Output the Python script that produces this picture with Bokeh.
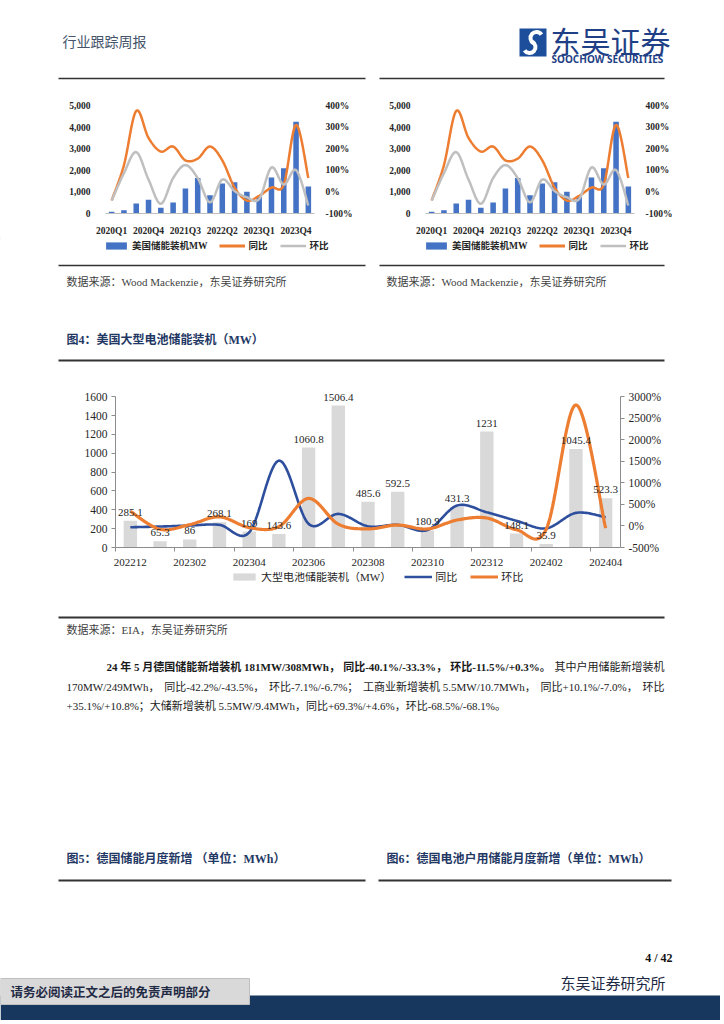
import numpy as np
from bokeh.plotting import figure
from bokeh.models import (Range1d, LinearAxis, FixedTicker, Legend, LegendItem,
                          ColumnDataSource, NumeralTickFormatter, PrintfTickFormatter, LabelSet)
from bokeh.layouts import column, row
from bokeh.core.properties import value
from bokeh.embed import file_html
from bokeh.resources import INLINE

# ---------------- data: US energy storage (Wood Mackenzie), quarterly ----------------
quarters = ["2020Q1", "2020Q2", "2020Q3", "2020Q4", "2021Q1", "2021Q2", "2021Q3", "2021Q4",
            "2022Q1", "2022Q2", "2022Q3", "2022Q4", "2023Q1", "2023Q2", "2023Q3", "2023Q4", "2024Q1"]
us_storage_mw = [80, 150, 460, 640, 270, 510, 1160, 1640, 850, 1390, 1450, 1010, 770, 1670, 2090, 4250, 1250]
us_storage_yoy = [-40, 124, 375, 250, 187, 210, 146, 154, 210, 146, 20, -40, -18, 20, 34, 310, 64]
us_storage_qoq = [-40, 87, 184, 57, -55, 64, 124, 64, -48, 57, 4, -25, -33, 113, 34, 101, -63]
quarter_tick_labels = ["2020Q1", "2020Q4", "2021Q3", "2022Q2", "2023Q1", "2023Q4"]
small_left_ticks = [0, 1000, 2000, 3000, 4000, 5000]
small_right_ticks = [-100, 0, 100, 200, 300, 400]
small_legend_labels = ["美国储能装机MW", "同比", "环比"]

# ---------------- data: US utility-scale battery storage (EIA), monthly ----------------
months = ["202212", "202301", "202302", "202303", "202304", "202305", "202306", "202307", "202308",
          "202309", "202310", "202311", "202312", "202401", "202402", "202403", "202404"]
utility_battery_mw = [285.1, 65.3, 86, 268.1, 169, 143.6, 1060.8, 1506.4, 485.6,
                      592.5, 180.9, 431.3, 1231, 148.1, 35.9, 1045.4, 523.3]
utility_yoy = [-30, -13, 10, 26, -150, 1517, 49, 281, -7, 26, -95, 474, 318, 121, -56, 304, 204]
utility_mom = [341, -77, 32, 212, -37, -15, 639, 42, -68, 22, -69, 138, 185, -88, -76, 2812, -50]
month_tick_labels = ["202212", "202302", "202304", "202306", "202308", "202310", "202312", "202402", "202404"]
main_left_ticks = [0, 200, 400, 600, 800, 1000, 1200, 1400, 1600]
main_right_ticks = [-500, 0, 500, 1000, 1500, 2000, 2500, 3000]
main_legend_labels = ["大型电池储能装机（MW）", "同比", "环比"]

SERIF = "Liberation Serif"
MIX = "Liberation Serif, Noto Sans CJK SC"
CJK = "Noto Sans CJK SC"

PAGE_W = 720
C_BAR_S, C_ORANGE, C_GRAY_LINE = "#4472C4", "#ED7D31", "#BFBFBF"
C_BAR_M, C_BLUE = "#D9D9D9", "#2E4F9E"


def smooth(xs, ys, n=24):
    xs = np.asarray(xs, float)
    ys = np.asarray(ys, float)
    m = len(xs)
    px, py = [], []
    for i in range(m - 1):
        i0 = max(i - 1, 0)
        i3 = min(i + 2, m - 1)
        c1x = xs[i] + (xs[i + 1] - xs[i0]) / 6
        c1y = ys[i] + (ys[i + 1] - ys[i0]) / 6
        c2x = xs[i + 1] - (xs[i3] - xs[i]) / 6
        c2y = ys[i + 1] - (ys[i3] - ys[i]) / 6
        t = np.linspace(0, 1, n)
        if i < m - 2:
            t = t[:-1]
        a = (1 - t) ** 3
        b = 3 * (1 - t) ** 2 * t
        c = 3 * (1 - t) * t ** 2
        d = t ** 3
        px.extend(a * xs[i] + b * c1x + c * c2x + d * xs[i + 1])
        py.extend(a * ys[i] + b * c1y + c * c2y + d * ys[i + 1])
    return px, py


def base_fig(**kw):
    p = figure(toolbar_location=None, output_backend="svg", **kw)
    p.outline_line_color = None
    p.background_fill_color = "white"
    p.border_fill_color = "white"
    p.grid.visible = False
    return p


def band(x0, x1, y0, y1):
    return base_fig(width=x1 - x0, height=y1 - y0, x_range=Range1d(x0, x1), y_range=Range1d(y1, y0),
                    min_border=0, x_axis_location=None, y_axis_location=None)


def txt(p, x, y, s, size, font=MIX, color="#222222", style="normal", align="left"):
    p.text(x=[x], y=[y], text=[s], text_font=value(font), text_font_size=size,
           text_font_style=style, text_color=color, text_align=align, text_baseline="middle")


def hline(p, x0, x1, y, w=1.5, color="#3a3a3a"):
    p.segment(x0=[x0], y0=[y], x1=[x1], y1=[y], line_width=w, line_color=color)


# approximate Times / CJK advance widths (em) used to justify paragraph lines
_TR = {".": .25, "/": .278, "%": .833, "+": .564, "-": .333, "M": .889, "W": .944, "h": .5, " ": .25}
_TB = {".": .25, "/": .278, "%": 1.0, "+": .57, "-": .333, "M": .944, "W": 1.0, "h": .556, " ": .25}


def seg_width(s, size, bold):
    tab = _TB if bold else _TR
    w = 0.0
    for ch in s:
        if ord(ch) > 0x2E80:
            w += 1.0
        else:
            w += tab.get(ch, 0.5)
    return w * size


def justify(p, segs, styles, x0, x1, y, size, color="#1a1a1a"):
    widths = [seg_width(s, size, st == "bold") for s, st in zip(segs, styles)]
    gap = (x1 - x0 - sum(widths)) / max(len(segs) - 1, 1)
    x = x0
    for s, st, w in zip(segs, styles, widths):
        txt(p, x, y, s, "%gpx" % size, color=color, style=st)
        x += w + gap


def style_axis(ax, size, bold=False, color="#262626"):
    ax.major_label_text_font = SERIF
    ax.major_label_text_font_size = size
    ax.major_label_text_font_style = "bold" if bold else "normal"
    ax.major_label_text_color = color


def legend_in_band(p, labels, kinds, colors, loc, font_size, bold, glyph_w, spacing, label_h):
    """Legend drawn in a plain band figure; sample glyphs live far outside the visible ranges."""
    items = []
    for lab, kind, col in zip(labels, kinds, colors):
        if kind == "bar":
            r = p.vbar(x=[-5000], top=[-5000], bottom=[-5001], width=1, fill_color=col, line_color=None)
        else:
            r = p.line(x=[-5000, -4999], y=[-5000, -5000], line_color=col,
                       line_width=2.5 if col != C_ORANGE else 3)
        items.append(LegendItem(label=lab, renderers=[r]))
    lg = Legend(items=items, orientation="horizontal", location=loc, padding=0, margin=0,
                glyph_width=glyph_w, glyph_height=9, label_height=label_h, label_standoff=3, spacing=spacing,
                label_text_font=MIX, label_text_font_size=font_size,
                label_text_font_style="bold" if bold else "normal",
                label_text_color="#262626", border_line_color=None, background_fill_alpha=0)
    p.add_layout(lg)


# ---------------- header ----------------
hdr = band(0, PAGE_W, 0, 90)
txt(hdr, 62, 40, "行业跟踪周报", "14px", font=CJK, color="#44546A")
hdr.quad(left=[519], right=[546], top=[28], bottom=[56], fill_color="#1C4E9B", line_color=None)
hdr.arc(x=[536], y=[37.5], radius=6.0, start_angle=0.6, end_angle=4.2, line_width=4, line_color="white")
hdr.arc(x=[529], y=[46.5], radius=6.0, start_angle=3.74, end_angle=7.34, line_width=4, line_color="white")
txt(hdr, 550, 39, "东吴证券", "30px", font=CJK, color="#1F3F86")
txt(hdr, 551, 58, "SOOCHOW SECURITIES", "10px", font="Noto Sans", color="#1F3F86", style="bold")
hline(hdr, 58, 365, 78, 1.5, "#333333")
hline(hdr, 379, 664, 78, 1.5, "#333333")


# ---------------- small quarterly charts (page y 90..238) ----------------
def small_chart(width, b_left, b_right):
    p = base_fig(width=width, height=148, x_range=Range1d(-0.5, 16.5), y_range=Range1d(0, 5000),
                 min_border_left=b_left, min_border_right=b_right, min_border_top=15, min_border_bottom=21)
    p.extra_y_ranges = {"pct": Range1d(-100, 400)}
    idx = list(range(len(quarters)))
    src = ColumnDataSource(dict(x=idx, mw=us_storage_mw))
    p.vbar(x="x", top="mw", width=0.45, source=src, fill_color=C_BAR_S, line_color=None)
    yx, yy = smooth(idx, us_storage_yoy)
    p.line(yx, yy, y_range_name="pct", line_color=C_ORANGE, line_width=2.5)
    qx, qy = smooth(idx, us_storage_qoq)
    p.line(qx, qy, y_range_name="pct", line_color=C_GRAY_LINE, line_width=2.5)

    ya = p.yaxis[0]
    ya.ticker = FixedTicker(ticks=small_left_ticks)
    ya.formatter = NumeralTickFormatter(format="0,0")
    style_axis(ya, "9.5px", bold=True)
    ya.axis_line_color = None
    ya.major_tick_line_color = None
    ya.minor_tick_line_color = None
    ya.major_label_standoff = 9

    ra = LinearAxis(y_range_name="pct", ticker=FixedTicker(ticks=small_right_ticks),
                    formatter=PrintfTickFormatter(format="%d%%"))
    style_axis(ra, "9.5px", bold=True)
    ra.axis_line_color = None
    ra.major_tick_line_color = None
    ra.minor_tick_line_color = None
    ra.major_label_standoff = 5
    p.add_layout(ra, "right")

    xa = p.xaxis[0]
    xa.ticker = FixedTicker(ticks=[quarters.index(q) for q in quarter_tick_labels])
    xa.major_label_overrides = {quarters.index(q): q for q in quarter_tick_labels}
    style_axis(xa, "9.5px", bold=True)
    xa.axis_line_color = "#BFBFBF"
    xa.major_tick_line_color = None
    xa.minor_tick_line_color = None
    xa.major_label_standoff = 6
    return p


left_small = small_chart(362, 105, 48)
right_small = small_chart(PAGE_W - 362, 63, PAGE_W - 362 - 63 - 209)

small_leg = band(0, PAGE_W, 238, 260)
for vx in (103, 423):
    legend_in_band(small_leg, small_legend_labels, ["bar", "line", "line"], [C_BAR_S, C_ORANGE, C_GRAY_LINE],
                   (vx, 8), "9.5px", True, 26, 12, 10)

# ---------------- captions between ----------------
mid = band(0, PAGE_W, 260, 372)
hline(mid, 58, 365, 265, 1.5, "#333333")
hline(mid, 379, 664, 265, 1.5, "#333333")
txt(mid, 66, 281, "数据来源：Wood Mackenzie，东吴证券研究所", "11px", color="#3F3F3F")
txt(mid, 386, 281, "数据来源：Wood Mackenzie，东吴证券研究所", "11px", color="#3F3F3F")
txt(mid, 66, 339, "图4：美国大型电池储能装机（MW）", "12px", color="#1F3864", style="bold")
hline(mid, 58, 664, 360, 2, "#333333")

# ---------------- main monthly chart (page y 372..572) ----------------
TOP_FRAC = 1720 / 1600.0
mp = base_fig(width=PAGE_W, height=200, x_range=Range1d(0, 17), y_range=Range1d(0, 1720),
              min_border_left=115, min_border_right=PAGE_W - 115 - 505,
              min_border_top=int(round(396 - 151 * (TOP_FRAC - 1) - 372)), min_border_bottom=25)
mp.extra_y_ranges = {"pct": Range1d(-500, -500 + 3500 * TOP_FRAC)}
mx = [i + 0.5 for i in range(len(months))]
msrc = ColumnDataSource(dict(x=mx, mw=utility_battery_mw,
                             lab=[("%.1f" % v).rstrip("0").rstrip(".") for v in utility_battery_mw]))
mp.vbar(x="x", top="mw", width=0.45, source=msrc, fill_color=C_BAR_M, line_color=None)
bx, by = smooth(mx, utility_yoy)
mp.line(bx, by, y_range_name="pct", line_color=C_BLUE, line_width=2.6)
ox, oy = smooth(mx, utility_mom)
mp.line(ox, oy, y_range_name="pct", line_color=C_ORANGE, line_width=3.2)
mp.add_layout(LabelSet(x="x", y="mw", text="lab", source=msrc, text_align="center",
                       text_baseline="bottom", y_offset=5, text_font=value(SERIF),
                       text_font_size="11px", text_color="#262626"))

la = mp.yaxis[0]
la.ticker = FixedTicker(ticks=main_left_ticks)
la.bounds = (0, 1600)
style_axis(la, "11.5px")
la.axis_line_color = "#8C8C8C"
la.major_tick_line_color = "#8C8C8C"
la.major_tick_out = 4
la.major_tick_in = 0
la.minor_tick_line_color = None
la.major_label_standoff = 4

pa = LinearAxis(y_range_name="pct", ticker=FixedTicker(ticks=main_right_ticks),
                formatter=PrintfTickFormatter(format="%d%%"), bounds=(-500, 3000))
style_axis(pa, "11.5px")
pa.axis_line_color = "#8C8C8C"
pa.major_tick_line_color = "#8C8C8C"
pa.major_tick_out = 4
pa.major_tick_in = 0
pa.minor_tick_line_color = None
pa.major_label_standoff = 4
mp.add_layout(pa, "right")

ba = mp.xaxis[0]
ba.ticker = FixedTicker(ticks=[months.index(m) + 0.5 for m in month_tick_labels],
                        minor_ticks=list(range(0, 18, 2)))
ba.major_label_overrides = {months.index(m) + 0.5: m for m in month_tick_labels}
style_axis(ba, "11px")
ba.axis_line_color = "#8C8C8C"
ba.major_tick_line_color = None
ba.minor_tick_line_color = "#8C8C8C"
ba.minor_tick_out = 4
ba.minor_tick_in = 0
ba.major_label_standoff = 5

main_leg = band(0, PAGE_W, 572, 600)
legend_in_band(main_leg, main_legend_labels, ["bar", "line", "line"], [C_BAR_M, C_BLUE, C_ORANGE],
               (230, 16), "11px", False, 28, 13, 12)

# ---------------- lower text ----------------
low = band(0, PAGE_W, 600, 1020)
hline(low, 58, 664, 617, 2, "#333333")
txt(low, 66, 629, "数据来源：EIA，东吴证券研究所", "11px", color="#3F3F3F")
justify(low, ["24 年 5 月德国储能新增装机 181MW/308MWh，", "同比-40.1%/-33.3%，", "环比-11.5%/+0.3%。",
              "其中户用储能新增装机"],
        ["bold", "bold", "bold", "normal"], 106, 664, 666, 11)
justify(low, ["170MW/249MWh，", "同比-42.2%/-43.5%，", "环比-7.1%/-6.7%；", "工商业新增装机 5.5MW/10.7MWh，",
              "同比+10.1%/-7.0%，", "环比"],
        ["normal"] * 6, 66, 664, 686, 11)
txt(low, 66, 705, "+35.1%/+10.8%；大储新增装机 5.5MW/9.4MWh，同比+69.3%/+4.6%，环比-68.5%/-68.1%。",
    "11px", color="#1a1a1a")
txt(low, 66, 858, "图5：德国储能月度新增 （单位：MWh）", "12px", color="#1F3864", style="bold")
txt(low, 386, 858, "图6：德国电池户用储能月度新增（单位：MWh）", "12px", color="#1F3864", style="bold")
hline(low, 58, 365, 880, 2, "#333333")
hline(low, 378, 671, 880, 2, "#333333")
txt(low, 672, 957, "4 / 42", "12px", font=SERIF, color="#111111", style="bold", align="right")
txt(low, 560, 982, "东吴证券研究所", "15px", font=CJK, color="#1F2A44")
low.quad(left=[0], right=[PAGE_W], top=[995], bottom=[1020], fill_color="#17375E", line_color=None)
low.quad(left=[0], right=[249], top=[978], bottom=[1004], fill_color="#D9D9D9", line_color="#BFBFBF")
txt(low, 10, 991, "请务必阅读正文之后的免责声明部分", "12.5px", font=CJK, color="#1F2A44", style="bold")

page = column(row(hdr), row(left_small, right_small, spacing=0), row(small_leg), row(mid), row(mp),
              row(main_leg), row(low), spacing=0)
open("out.html", "w").write(file_html(page, INLINE))
